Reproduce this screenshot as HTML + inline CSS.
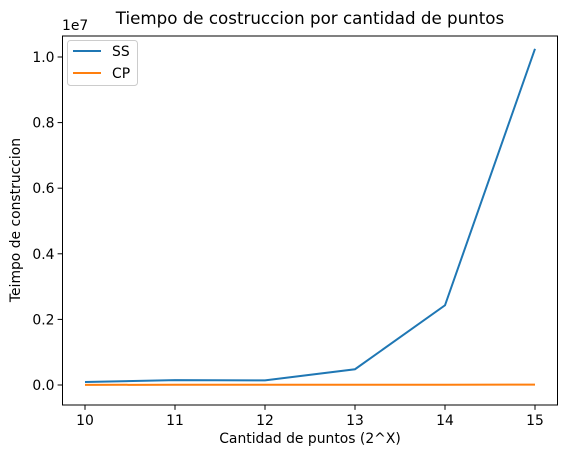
<!DOCTYPE html>
<html><head><meta charset="utf-8"><style>
body{margin:0;background:#fff;font-family:"Liberation Sans","DejaVu Sans",sans-serif;}
svg text{font-family:"DejaVu Sans","Liberation Sans",sans-serif;}
</style></head><body>
<svg id="chart" width="567" height="455" xmlns="http://www.w3.org/2000/svg">
<g id="g"></g>
</svg>
<script>
const categories=[10,11,12,13,14,15];
const ssValues=[90000,150000,140000,480000,2430000,10250000];
const cpValues=[5000,6000,7000,8000,9000,10000];
const yTicks=[0,2000000,4000000,6000000,8000000,10000000];
const yTickLabels=["0.0","0.2","0.4","0.6","0.8","1.0"];
const L=62.5,R=557.5,T=36,B=405;
const xmin=9.75,xmax=15.25,ymin=-610000,ymax=10640000;
const xs=v=>L+(v-xmin)/(xmax-xmin)*(R-L);
const ys=v=>B-(v-ymin)/(ymax-ymin)*(B-T);
const NS="http://www.w3.org/2000/svg";
const g=document.getElementById('g');
function mk(t,a,txt){const e=document.createElementNS(NS,t);for(const k in a)e.setAttribute(k,a[k]);if(txt!==undefined)e.textContent=txt;g.appendChild(e);return e;}
categories.forEach(c=>{const x=xs(c);
const t=mk('line',{x1:x,x2:x,y1:B,y2:B+4.9,stroke:'#000','stroke-width':1});


const l=mk('text',{x:x,y:B+20,'text-anchor':'middle','font-size':13.9,fill:'#000'},String(c));

});
yTicks.forEach((v,i)=>{const y=ys(v);
const t=mk('line',{x1:L-4.9,x2:L,y1:y,y2:y,stroke:'#000','stroke-width':1});


const l=mk('text',{x:L-8,y:y+5,'text-anchor':'end','font-size':13.9,fill:'#000'},yTickLabels[i]);

});
function line(vals,color,name){const p=vals.map((v,i)=>(i?'L':'M')+xs(categories[i])+','+ys(v)).join(' ');
const e=mk('path',{d:p,fill:'none',stroke:color,'stroke-width':2});

}
line(ssValues,'#1f77b4','ss-line');
line(cpValues,'#ff7f0e','cp-line');
const fr=mk('rect',{x:L,y:T,width:R-L,height:B-T,fill:'none',stroke:'#000','stroke-width':1});


</script>
<svg style="position:absolute;left:0;top:0" width="567" height="455" xmlns="http://www.w3.org/2000/svg">
<text x="310" y="24" text-anchor="middle" font-size="16.7">Tiempo de costruccion por cantidad de puntos</text>
<text x="62" y="30" font-size="13.9">1e7</text>
<text x="310" y="443" text-anchor="middle" font-size="13.9">Cantidad de puntos (2^X)</text>
<text transform="translate(20,220) rotate(-90)" text-anchor="middle" font-size="13.9">Teimpo de construccion</text>
<g>
<rect x="67.5" y="40.5" width="70" height="45" rx="3" fill="#fff" stroke="#ccc" stroke-width="1"/>
<line x1="73" x2="101" y1="51" y2="51" stroke="#1f77b4" stroke-width="2"/>
<text x="112" y="56" font-size="13.9">SS</text>
<line x1="73" x2="101" y1="73" y2="73" stroke="#ff7f0e" stroke-width="2"/>
<text x="112" y="78" font-size="13.9">CP</text>
</g>
</svg>
</body></html>
